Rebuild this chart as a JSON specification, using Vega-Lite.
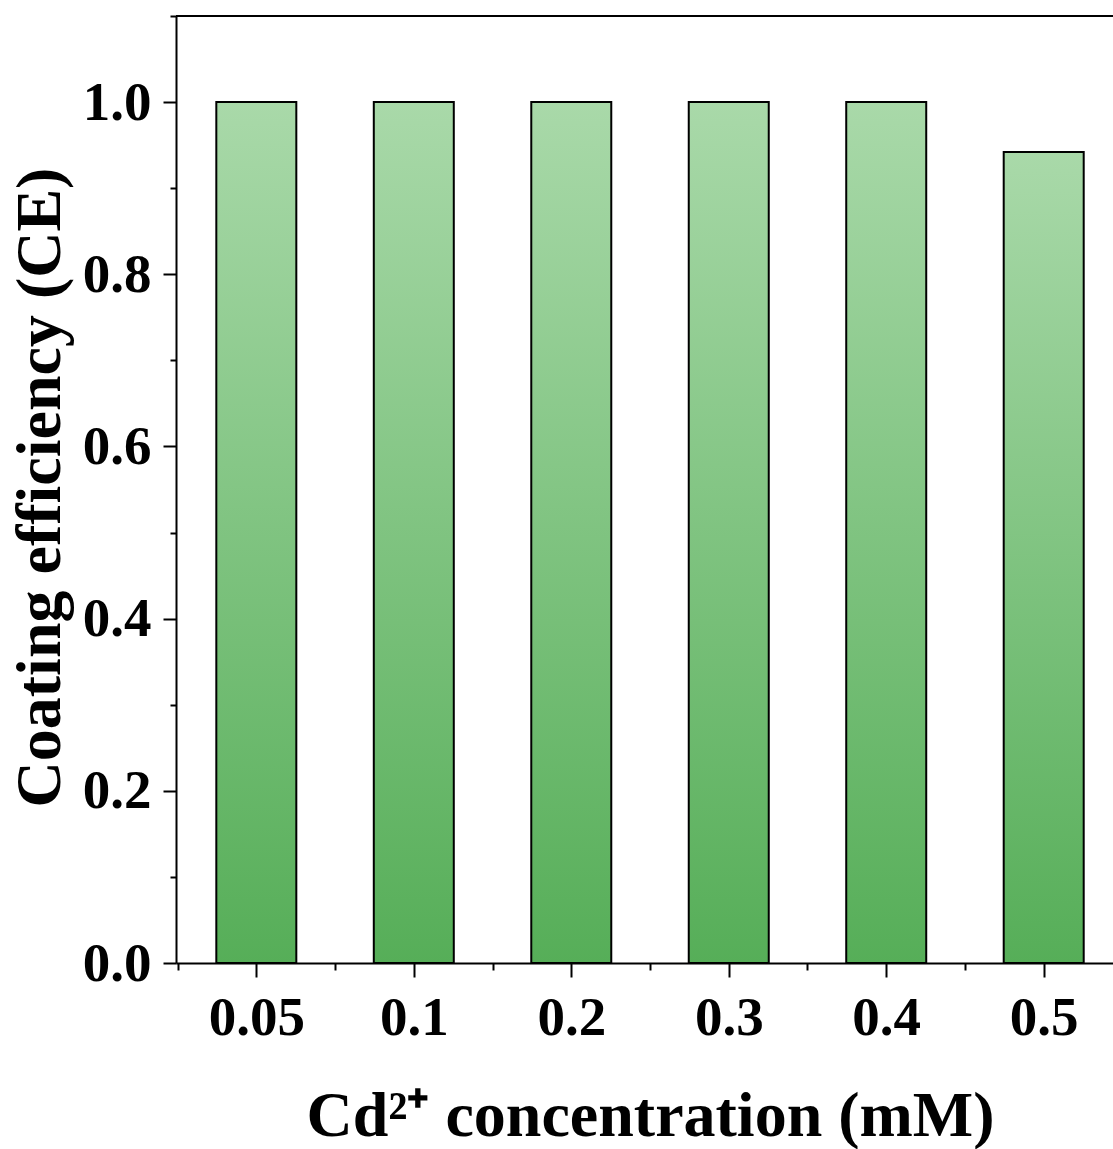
{
  "$schema": "https://vega.github.io/schema/vega-lite/v6.json",
  "autosize": "none",
  "width": 937,
  "height": 947,
  "padding": {"left": 176, "top": 16, "right": 0, "bottom": 186},
  "background": "white",
  "config": {
    "view": {"stroke": null},
    "axis": {
      "grid": false,
      "domainColor": "black",
      "domainWidth": 2,
      "tickColor": "black",
      "tickWidth": 2,
      "labelFont": "Liberation Serif",
      "labelFontWeight": "bold",
      "labelFontSize": 55,
      "labelColor": "black",
      "titleFont": "Liberation Serif",
      "titleFontWeight": "bold",
      "titleFontSize": 64,
      "titleColor": "black"
    }
  },
  "data": {
    "values": [
      {"idx": 0, "concentration": "0.05", "ce": 1.0},
      {"idx": 1, "concentration": "0.1", "ce": 1.0},
      {"idx": 2, "concentration": "0.2", "ce": 1.0},
      {"idx": 3, "concentration": "0.3", "ce": 1.0},
      {"idx": 4, "concentration": "0.4", "ce": 1.0},
      {"idx": 5, "concentration": "0.5", "ce": 0.942}
    ]
  },
  "layer": [
    {
      "mark": {
        "type": "bar",
        "width": 80,
        "stroke": "black",
        "strokeWidth": 2,
        "fill": {
          "gradient": "linear",
          "x1": 0, "y1": 0, "x2": 0, "y2": 1,
          "stops": [
            {"offset": 0, "color": "#a9d9a9"},
            {"offset": 1, "color": "#56ae58"}
          ]
        }
      },
      "encoding": {
        "x": {
          "field": "idx",
          "type": "quantitative",
          "scale": {"domain": [-0.51, 5.44], "nice": false, "zero": false, "padding": 0},
          "axis": {
            "values": [-0.5, 0, 0.5, 1, 1.5, 2, 2.5, 3, 3.5, 4, 4.5, 5],
            "labelExpr": "datum.value % 1 == 0 ? ['0.05','0.1','0.2','0.3','0.4','0.5'][datum.value] : ''",
            "tickSize": {"condition": {"test": "datum.value % 1 == 0", "value": 14}, "value": 7},
            "labelPadding": 14,
            "labelFlush": false,
            "labelOverlap": false,
            "labelBound": false,
            "title": "Cd²⁺ concentration (mM)",
            "titleX": 474,
            "titleY": 172,
            "titleAnchor": null,
            "titleAlign": "center",
            "titleBaseline": "alphabetic"
          }
        },
        "y": {
          "field": "ce",
          "type": "quantitative",
          "scale": {"domain": [0, 1.1], "nice": false},
          "axis": {
            "values": [0, 0.1, 0.2, 0.3, 0.4, 0.5, 0.6, 0.7, 0.8, 0.9, 1.0, 1.1],
            "labelExpr": "round(datum.value*10) % 2 == 0 ? format(datum.value, '.1f') : ''",
            "tickSize": {"condition": {"test": "round(datum.value*10) % 2 == 0", "value": 13}, "value": 6},
            "labelPadding": 12,
            "labelOverlap": false,
            "labelFlush": false,
            "title": "Coating efficiency (CE)",
            "titleX": -117,
            "titleY": 471,
            "titleAngle": -90,
            "titleAlign": "center",
            "titleBaseline": "alphabetic"
          }
        }
      }
    },
    {
      "mark": {"type": "rule", "color": "black", "strokeWidth": 2},
      "encoding": {"y": {"datum": 1.1}}
    }
  ]
}
